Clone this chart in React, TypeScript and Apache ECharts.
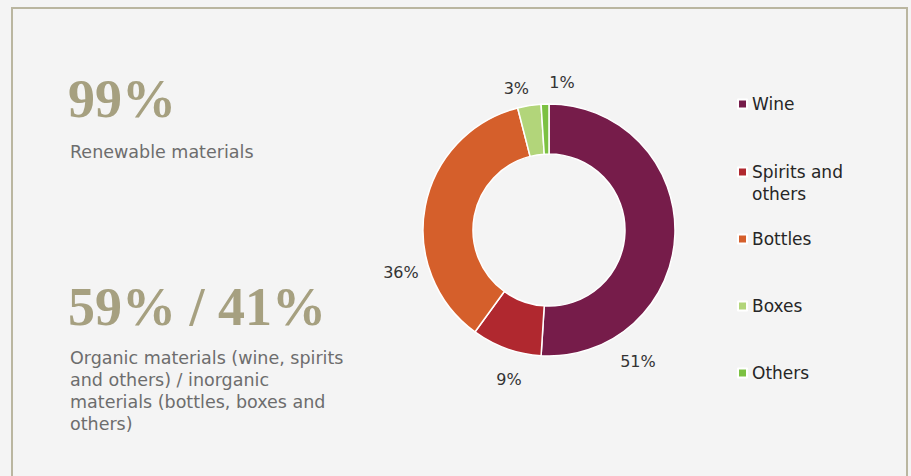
import React, { useEffect, useRef } from "react";
import * as echarts from "echarts";

const categories = ["Wine", "Spirits and others", "Bottles", "Boxes", "Others"];
const values = [51, 9, 36, 3, 1];
const colors = ["#761c4a", "#b0282f", "#d55f2b", "#b2d57a", "#7cc142"];

const headline1 = "99%";
const caption1 = "Renewable materials";
const headline2 = "59% / 41%";
const caption2Lines = [
  "Organic materials (wine, spirits",
  "and others) / inorganic",
  "materials (bottles, boxes and",
  "others)",
];

// label placement (Excel-like), angle clockwise from top in degrees, distance from centre
const LABEL_ANGLE = [146, 195, 254, 347, 5];
const LABEL_DIST = [159, 155, 154, 145, 148];
const LEGEND_CENTER_Y = [104, 172, 239, 306, 373];

const CX = 549;
const CY = 230;
const SANS = "DejaVu Sans";

export default function App() {
  const ref = useRef<HTMLDivElement>(null);
  useEffect(() => {
    if (!ref.current) return;
    const chart = echarts.init(ref.current, null, { renderer: "svg" });
    const lh = 22;
    const legends = categories.map((name, i) => {
      const multi = name === "Spirits and others";
      return {
        show: true,
        orient: "vertical",
        left: 737,
        top: LEGEND_CENTER_Y[i] - (multi ? lh * 1.5 : lh / 2),
        padding: 0,
        itemWidth: 9,
        itemHeight: 9,
        icon: "rect",
        selectedMode: false,
        data: [name],
        formatter: (n: string) => (n === "Spirits and others" ? "\nSpirits and\nothers" : n),
        textStyle: {
          fontFamily: SANS,
          fontSize: 17,
          color: "#262626",
          lineHeight: lh,
        },
      };
    });
    chart.setOption({
      animation: false,
      backgroundColor: "#f4f4f4",
      color: colors,
      legend: legends,
      graphic: [
        {
          type: "rect",
          shape: { x: 12, y: 8, width: 895, height: 500 },
          style: { fill: "none", stroke: "#bab6a0", lineWidth: 2 },
          silent: true,
        },
        {
          type: "text",
          x: 68,
          y: 99,
          style: {
            text: headline1,
            fontFamily: "Liberation Serif",
            fontWeight: "bold",
            fontSize: 54,
            fill: "#a6a080",
            verticalAlign: "middle",
          },
        },
        {
          type: "text",
          x: 70,
          y: 152,
          style: {
            text: caption1,
            fontFamily: SANS,
            fontSize: 17.5,
            fill: "#6d6d6d",
            verticalAlign: "middle",
          },
        },
        {
          type: "text",
          x: 68,
          y: 307,
          style: {
            text: headline2,
            fontFamily: "Liberation Serif",
            fontWeight: "bold",
            fontSize: 54,
            fill: "#a6a080",
            verticalAlign: "middle",
          },
        },
        {
          type: "text",
          x: 70,
          y: 347,
          style: {
            text: caption2Lines.join("\n"),
            fontFamily: SANS,
            fontSize: 17.5,
            lineHeight: 22,
            fill: "#6d6d6d",
            verticalAlign: "top",
          },
        },
      ],
      series: [
        {
          type: "pie",
          center: [CX, CY],
          radius: [76, 126],
          startAngle: 90,
          clockwise: true,
          avoidLabelOverlap: false,
          itemStyle: { borderColor: "#ffffff", borderWidth: 1.5 },
          label: {
            show: true,
            position: "outside",
            formatter: (p: any) => `${p.value}%`,
            fontFamily: SANS,
            fontSize: 16,
            color: "#333333",
          },
          labelLine: { show: false },
          labelLayout: (p: any) => {
            const i = p.dataIndex;
            const a = (LABEL_ANGLE[i] * Math.PI) / 180;
            const d = LABEL_DIST[i];
            return {
              x: CX + d * Math.sin(a),
              y: CY - d * Math.cos(a),
              align: "center",
              verticalAlign: "middle",
            };
          },
          emphasis: { disabled: true },
          data: categories.map((name, i) => ({ name, value: values[i] })),
        },
      ],
    });
    return () => chart.dispose();
  }, []);
  return (
    <div
      ref={ref}
      style={{ position: "fixed", left: 0, top: 0, width: 911, height: 476 }}
    />
  );
}
